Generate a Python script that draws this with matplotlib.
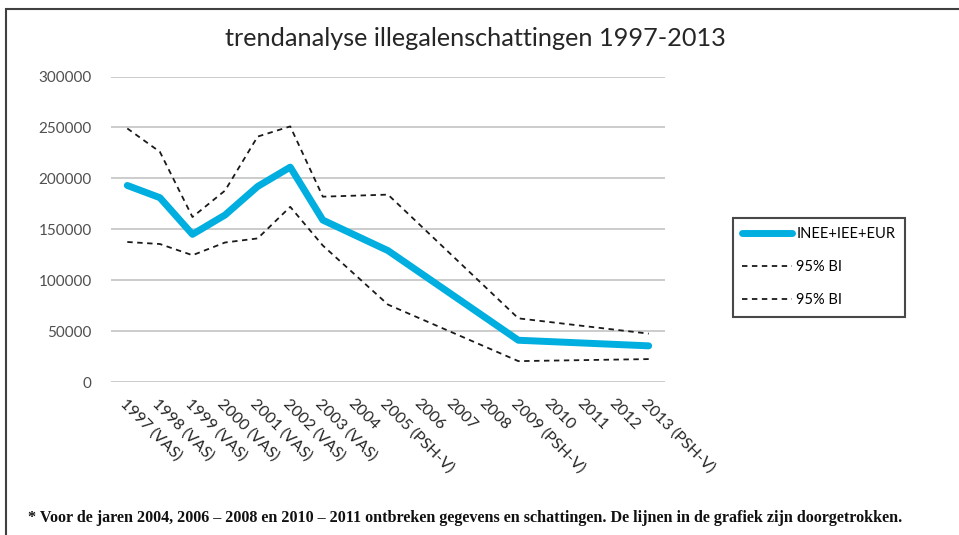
import matplotlib
matplotlib.use("Agg")
import matplotlib.pyplot as plt
from matplotlib.patches import Rectangle

# categorieën (jaren) en schattingen; None = geen schatting voor dat jaar
jaren = ["1997 (VAS)", "1998 (VAS)", "1999 (VAS)", "2000 (VAS)", "2001 (VAS)",
         "2002 (VAS)", "2003 (VAS)", "2004", "2005 (PSH-V)", "2006", "2007",
         "2008", "2009 (PSH-V)", "2010", "2011", "2012", "2013 (PSH-V)"]
schatting = [193000, 181000, 145000, 164000, 192000, 211000, 159000, None,
             129000, None, None, None, 41000, None, None, None, 35500]
bi_boven = [249000, 226000, 162000, 188000, 241000, 251000, 182000, None,
            184000, None, None, None, 62500, None, None, None, 47500]
bi_onder = [137500, 135500, 124500, 137000, 141000, 172000, 134000, None,
            76000, None, None, None, 20500, None, None, None, 22500]

def punten(waarden):
    # alleen jaren met een schatting, de lijn wordt doorgetrokken
    xs = [i for i, v in enumerate(waarden) if v is not None]
    ys = [v for v in waarden if v is not None]
    return xs, ys

fig = plt.figure(figsize=(9.59, 5.35), dpi=100)
ax = fig.add_axes([111/959, 1 - 382/535, (665 - 111)/959, (382 - 76.5)/535])

x, y = punten(schatting)
ax.plot(x, y, color="#00AEDF", lw=5, solid_capstyle="round", label="INEE+IEE+EUR", zorder=3)
x, y = punten(bi_boven)
ax.plot(x, y, color="#1a1a1a", lw=1.3, ls=(0, (3, 2.5)), label="95% BI", zorder=2)
x, y = punten(bi_onder)
ax.plot(x, y, color="#1a1a1a", lw=1.3, ls=(0, (3, 2.5)), label="95% BI", zorder=2)

ax.set_xlim(-0.5, len(jaren) - 0.5)
ax.set_ylim(0, 300000)
ax.set_yticks(range(0, 300001, 50000))
ax.set_yticklabels([str(v) for v in range(0, 300001, 50000)],
                   fontsize=11, color="#505050", family="Lato")
ax.set_xticks(range(len(jaren)))
ax.set_xticklabels(jaren, rotation=-45, ha="left", va="top", rotation_mode="anchor",
                   fontsize=11.5, color="#262626", family="Lato")
ax.tick_params(axis="both", length=0)
ax.tick_params(axis="y", pad=14)
ax.tick_params(axis="x", pad=10)
ax.grid(axis="y", color="#C8C8C8", lw=1.3)
ax.set_axisbelow(True)
for s in ax.spines.values():
    s.set_visible(False)

fig.text(475/959, 1 - 38/535, "trendanalyse illegalenschattingen 1997-2013",
         ha="center", va="center", fontsize=18.2, color="#262626", family="Lato")

leg = fig.legend(loc="upper left", bbox_to_anchor=(733/959, 1 - 218/535),
                 frameon=True, fancybox=False, handlelength=3.4, borderaxespad=0,
                 labelspacing=1.3, borderpad=0.65, handletextpad=0.3,
                 prop={"family": "Lato", "size": 10.5})
leg.get_frame().set_edgecolor("#1a1a1a")
leg.get_frame().set_linewidth(1.5)

fig.text(28/959, 1 - 518/535,
         "* Voor de jaren 2004, 2006 \u2013 2008 en 2010 \u2013 2011 ontbreken gegevens en schattingen. "
         "De lijnen in de grafiek zijn doorgetrokken.",
         ha="left", va="center", fontsize=11.6, fontweight="bold",
         family="Liberation Serif", color="#111111")

# kader rond de grafiek (loopt rechts en onder buiten beeld)
fig.patches.append(Rectangle((6/959, -0.1), 1.2, 1.1 - 9/535, transform=fig.transFigure,
                             fill=False, edgecolor="#404040", lw=1.5, clip_on=False))

fig.savefig("out.png", dpi=100)
